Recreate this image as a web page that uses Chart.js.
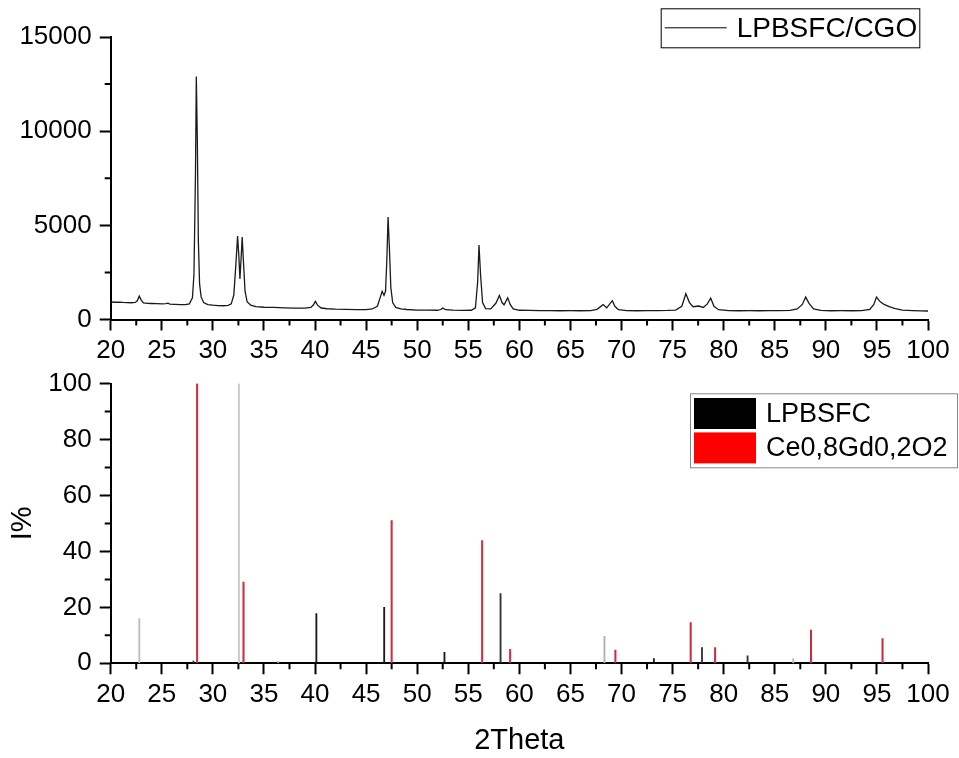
<!DOCTYPE html>
<html>

<head>
	<meta charset="utf-8">
	<script src="https://cdn.jsdelivr.net/npm/chart.js@4.4.0/dist/chart.umd.min.js"></script>
	<style>
		html, body { margin: 0; padding: 0; background: #fff; }
		.plot { position: absolute; left: 0; width: 959px; }
	</style>
</head>

<body>
	<div class="plot" style="top: 0; height: 380px"><canvas id="pattern"></canvas></div>
	<div class="plot" style="top: 360px; height: 398px"><canvas id="sticks"></canvas></div>

	<script>
		// Measured pattern, LPBSFC/CGO
		const twoTheta = [
			20.0, 20.4, 20.8, 21.2, 21.6, 22.0, 22.4, 22.6, 22.8, 23.0, 23.2, 23.6, 24.0, 24.5, 25.0, 25.4, 25.6, 25.8,
			26.3, 26.8, 27.3, 27.7, 28.0, 28.15, 28.3, 28.38, 28.48, 28.58, 28.7, 28.85, 29.1, 29.5, 30.0, 30.5,
			31.0, 31.5, 31.8, 32.05, 32.25, 32.42, 32.55, 32.65, 32.78, 32.87, 33.0, 33.15, 33.35, 33.7, 34.2,
			35.0, 36.0, 37.0, 38.0, 39.0, 39.6, 39.85, 40.03, 40.25, 40.6, 41.2, 42.0, 43.0, 44.0, 45.0, 45.6,
			46.1, 46.4, 46.57, 46.75, 46.9, 47.02, 47.15, 47.28, 47.42, 47.6, 47.9, 48.4, 49.0, 50.0, 51.0, 52.0,
			52.3, 52.5, 52.8, 53.5, 54.5, 55.3, 55.7, 55.92, 56.05, 56.2, 56.4, 56.7, 57.2, 57.7, 58.05, 58.3,
			58.5, 58.86, 59.1, 59.4, 60.0, 61.0, 62.0, 63.0, 64.0, 65.0, 66.0, 67.0, 67.6, 68.2, 68.55, 69.1,
			69.35, 69.7, 70.5, 71.5, 72.5, 73.5, 74.5, 75.3, 75.9, 76.3, 76.65, 77.0, 77.55, 78.0, 78.4, 78.73,
			79.05, 79.5, 80.5, 81.5, 82.5, 83.5, 84.5, 85.5, 86.5, 87.2, 87.7, 88.03, 88.35, 88.8, 89.5, 90.5,
			91.5, 92.5, 93.5, 94.3, 94.7, 94.96, 95.3, 95.7, 96.2, 96.8, 97.5, 98.5, 99.3, 100.0
		];
		const counts = [
			930, 915, 922, 905, 898, 890, 905, 990, 1240, 1020, 880, 860, 850, 840, 830, 845, 870, 815,
			800, 790, 790, 830, 1150, 2400, 7800, 12900, 9500, 4200, 1900, 1200, 900, 790, 760, 740,
			730, 750, 830, 1300, 2900, 4430, 3300, 2150, 3400, 4380, 3000, 1500, 950, 760, 680,
			650, 640, 620, 605, 600, 640, 780, 960, 760, 610, 570, 550, 540, 525, 520, 560,
			700, 1200, 1500, 1280, 1500, 3000, 5440, 3800, 1700, 900, 640, 560, 530, 500, 495, 490,
			530, 605, 520, 495, 485, 490, 620, 2000, 3950, 2400, 900, 580, 560, 860, 1280, 900,
			780, 1150, 800, 560, 490, 480, 470, 470, 465, 470, 465, 475, 540, 790, 620, 1000,
			700, 520, 470, 465, 470, 475, 480, 500, 700, 1370, 900, 680, 715, 640, 830, 1130,
			700, 520, 470, 465, 470, 465, 470, 470, 480, 560, 800, 1190, 860, 560, 480, 465,
			470, 465, 470, 540, 800, 1190, 950, 800, 680, 580, 500, 470, 455, 450
		];

		// Reference lines, relative intensity I%
		const lpbsfcPos = [22.8, 28.1, 32.55, 36.4, 40.13, 46.77, 52.67, 58.16, 68.33, 73.17, 77.88, 82.34, 86.8];
		const lpbsfcInt = [16, 0.8, 100, 0.7, 17.8, 20, 3.9, 24.9, 9.6, 1.7, 5.6, 2.7, 1.7];
		const cgoPos = [28.46, 33.0, 47.5, 56.36, 59.1, 69.4, 76.77, 79.16, 88.55, 95.55];
		const cgoInt = [100, 29, 51, 43.9, 5, 4.7, 14.6, 5.6, 11.9, 8.8];

		const FONT = "'Liberation Sans', Arial, sans-serif";
		Chart.defaults.font.family = FONT;
		Chart.defaults.color = '#000';

		// short ticks halfway between the labelled ones
		const minorTicks = {
			id: 'minorTicks',
			afterDraw(chart) {
				const ctx = chart.ctx;
				ctx.save();
				ctx.strokeStyle = '#000';
				ctx.lineWidth = 2;
				for (const id of ['x', 'y']) {
					const s = chart.scales[id];
					const step = s.options.minorStep;
					ctx.beginPath();
					for (let v = s.min + step; v < s.max; v += 2 * step) {
						const p = s.getPixelForValue(v);
						if (id === 'x') {
							ctx.moveTo(p, s.top);
							ctx.lineTo(p, s.top + 6);
						} else {
							ctx.moveTo(s.right, p);
							ctx.lineTo(s.right - 6, p);
						}
					}
					ctx.stroke();
				}
				ctx.restore();
			}
		};

		// framed legend placed inside the plot
		const boxLegend = {
			id: 'boxLegend',
			afterDraw(chart, args, opts) {
				const ctx = chart.ctx;
				const b = opts.box;
				ctx.save();
				ctx.fillStyle = '#fff';
				ctx.fillRect(b.x, b.y, b.w, b.h);
				ctx.strokeStyle = opts.border;
				ctx.lineWidth = 1;
				ctx.strokeRect(b.x + 0.5, b.y + 0.5, b.w, b.h);
				ctx.font = opts.size + 'px ' + FONT;
				ctx.textBaseline = 'middle';
				ctx.fillStyle = '#000';
				chart.data.datasets.forEach((ds, i) => {
					const cy = b.y + opts.rowTop + i * opts.rowH + opts.rowH / 2;
					if (opts.swatch === 'line') {
						ctx.strokeStyle = '#000';
						ctx.beginPath();
						ctx.moveTo(b.x + 4, cy);
						ctx.lineTo(b.x + 4 + opts.swW, cy);
						ctx.stroke();
					} else {
						ctx.fillStyle = opts.colors[i];
						ctx.fillRect(b.x + 4, cy - opts.swH / 2, opts.swW, opts.swH);
					}
					ctx.fillStyle = '#000';
					ctx.fillText(ds.label, b.x + opts.textX, cy + 1);
				});
				ctx.restore();
			}
		};

		function xScale(height, title) {
			return {
				type: 'linear',
				min: 20,
				max: 100,
				offset: false,
				minorStep: 2.5,
				border: { display: true, color: '#000', width: 2 },
				grid: { display: true, drawOnChartArea: false, offset: false, tickLength: 11, tickWidth: 2, tickColor: '#000' },
				ticks: { stepSize: 5, autoSkip: false, maxRotation: 0, padding: 5, font: { size: 26 } },
				title: title ? { display: true, text: title, font: { size: 29 }, padding: { top: 0, bottom: 0 } } : { display: false },
				afterFit(s) { s.height = height; }
			};
		}

		function yScale(max, step, minor, title) {
			return {
				type: 'linear',
				min: 0,
				max: max,
				minorStep: minor,
				border: { display: true, color: '#000', width: 2 },
				grid: { display: true, drawOnChartArea: false, tickLength: 11, tickWidth: 2, tickColor: '#000' },
				ticks: { stepSize: step, padding: 8, font: { size: 26 }, callback: v => String(v) },
				title: title ? { display: true, text: title, font: { size: 29 }, padding: { top: 6, bottom: 0 } } : { display: false },
				afterFit(s) { s.width = 110.7; }
			};
		}

		new Chart(document.getElementById('pattern'), {
			type: 'line',
			data: {
				datasets: [{
					label: 'LPBSFC/CGO',
					data: twoTheta.map((x, i) => ({ x: x, y: counts[i] })),
					borderColor: '#1a1a1a',
					borderWidth: 1.3,
					pointRadius: 0,
					tension: 0,
					fill: false
				}]
			},
			options: {
				responsive: true,
				maintainAspectRatio: false,
				animation: false,
				layout: { padding: { top: 37, right: 31, bottom: 0, left: 0 } },
				plugins: {
					legend: { display: false },
					tooltip: { enabled: false },
					boxLegend: {
						box: { x: 660.7, y: 8.3, w: 258.6, h: 39 },
						border: '#000',
						swatch: 'line',
						size: 28,
						rowTop: 0,
						rowH: 39,
						swW: 62,
						textX: 76
					}
				},
				scales: {
					x: xScale(60.5),
					y: yScale(15000, 5000, 2500)
				}
			},
			plugins: [minorTicks, boxLegend]
		});

		new Chart(document.getElementById('sticks'), {
			type: 'bar',
			data: {
				datasets: [{
					label: 'LPBSFC',
					data: lpbsfcPos.map((x, i) => ({ x: x, y: lpbsfcInt[i] })),
					backgroundColor: ['#bdbdbd', '#333', '#c8c8c8', '#b0b0b0', '#1a1a1a', '#1a1a1a', '#1a1a1a', '#333', '#b0b0b0', '#1a1a1a', '#333', '#333', '#bbb'],
					barThickness: 1.2,
					grouped: false
				}, {
					label: 'Ce0,8Gd0,2O2',
					data: cgoPos.map((x, i) => ({ x: x, y: cgoInt[i] })),
					backgroundColor: '#c8303c',
					barThickness: 1.4,
					grouped: false
				}]
			},
			options: {
				responsive: true,
				maintainAspectRatio: false,
				animation: false,
				layout: { padding: { top: 22, right: 31, bottom: 0, left: 0 } },
				plugins: {
					legend: { display: false },
					tooltip: { enabled: false },
					boxLegend: {
						box: { x: 690, y: 33.3, w: 267, h: 74 },
						border: '#888',
						swatch: 'rect',
						colors: ['#000', '#ff0000'],
						size: 27,
						rowTop: 3,
						rowH: 34.4,
						swW: 62,
						swH: 31,
						textX: 76
					}
				},
				scales: {
					x: xScale(94.7, '2Theta'),
					y: yScale(100, 20, 10, 'I%')
				}
			},
			plugins: [minorTicks, boxLegend]
		});
	</script>
</body>

</html>
